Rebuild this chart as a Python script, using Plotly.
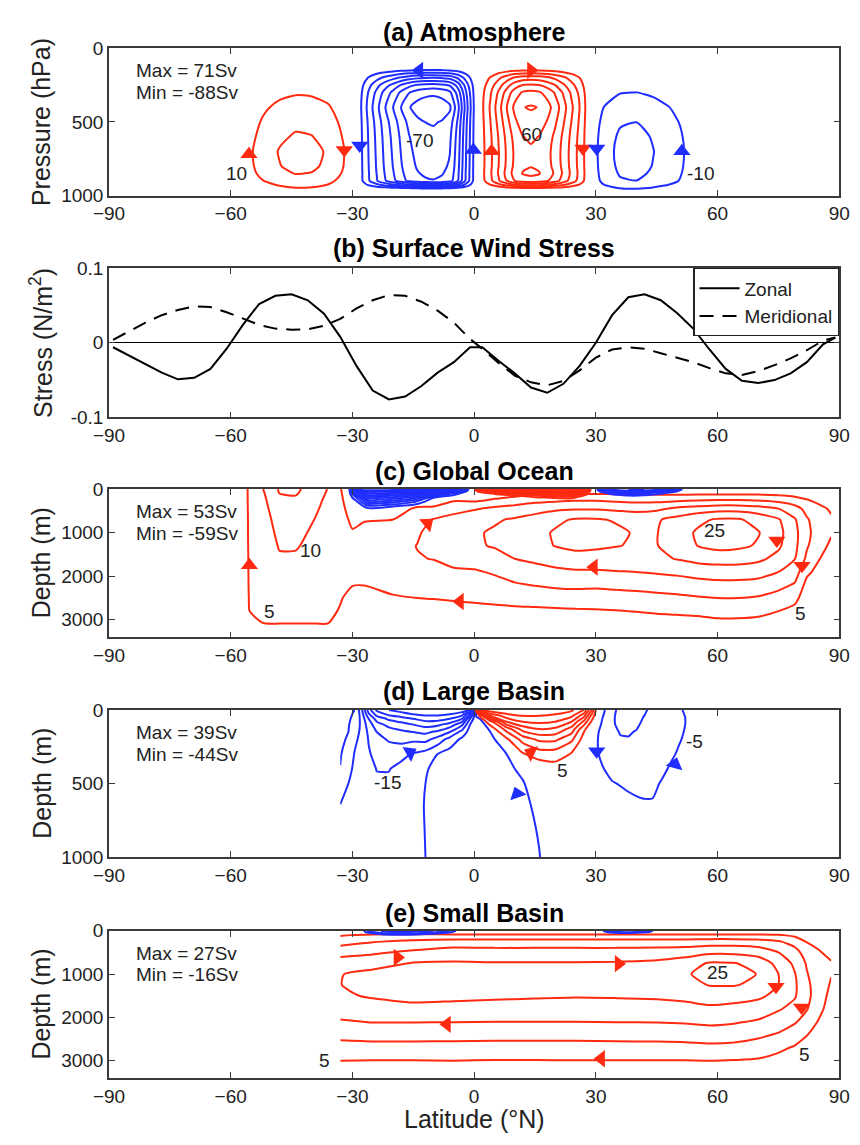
import plotly.graph_objects as go
import numpy as np

# ---------------- DATA ----------------
LAT_TICKS = [-90, -60, -30, 0, 30, 60, 90]

# (a) Atmosphere: cells as amplitude x lat-profile x pressure-profile
P_A = [0, 100, 150, 200, 250, 300, 400, 500, 600, 700, 800, 850, 900, 925, 950, 1000]
LAT_FS = [-60, -56, -52, -48, -44, -40, -36, -32, -30, -28]
F_FS = [0, 0.3, 0.62, 0.86, 1.0, 0.96, 0.78, 0.42, 0.12, 0]
G_FS = [0, 0, 0, 0.1, 0.24, 0.38, 0.58, 0.74, 0.88, 1.0, 0.95, 0.85, 0.66, 0.53, 0.4, 0]
A_FS = 24
LAT_HS = [-30, -28, -26, -24, -22, -20, -18, -16, -14, -12, -10, -8, -6, -4, -2, 0, 1]
F_HS = [0, 0.1, 0.27, 0.42, 0.56, 0.68, 0.8, 0.9, 0.96, 0.99, 1.0, 0.98, 0.93, 0.72, 0.4, 0.1, 0]
G_HS = [0, 0, 0.12, 0.45, 0.72, 0.88, 1.0, 0.92, 0.88, 0.86, 0.84, 0.82, 0.79, 0.5, 0.12, 0]
A_HS = -88
LAT_HN = [1, 2, 4, 6, 8, 10, 12, 14, 16, 18, 20, 22, 24, 26, 28, 30]
F_HN = [0, 0.12, 0.3, 0.5, 0.7, 0.88, 0.98, 1.0, 0.98, 0.9, 0.78, 0.62, 0.45, 0.28, 0.08, 0]
G_HN = [0, 0, 0.14, 0.5, 0.72, 0.88, 1.0, 0.93, 0.86, 0.83, 0.84, 0.87, 0.8, 0.5, 0.12, 0]
A_HN = 71
LAT_FN = [28, 30, 32, 36, 40, 44, 48, 52, 56, 60]
F_FN = [0, 0.35, 0.65, 0.95, 1.0, 0.85, 0.65, 0.4, 0.15, 0]
G_FN = [0, 0, 0, 0.12, 0.27, 0.42, 0.65, 0.83, 0.95, 1.0, 0.97, 0.92, 0.83, 0.65, 0.45, 0]
A_FN = -24

# (b) Surface wind stress
LAT_B = [-89, -85, -81, -77, -73, -69, -65, -61, -57, -53, -49, -45, -41, -37, -33, -29, -25, -21, -17, -13,
         -9, -5, -1, 2, 6, 10, 14, 18, 22, 26, 30, 34, 38, 42, 46, 50, 54, 58, 62, 66, 70, 74, 78, 82, 86, 89]
ZONAL = [-0.006, -0.017, -0.029, -0.040, -0.049, -0.047, -0.035, -0.008, 0.024, 0.052, 0.063, 0.065, 0.057,
         0.039, 0.008, -0.031, -0.064, -0.076, -0.072, -0.058, -0.040, -0.026, -0.006, -0.006, -0.024, -0.041,
         -0.060, -0.067, -0.055, -0.031, 0.000, 0.037, 0.061, 0.065, 0.057, 0.040, 0.019, -0.009, -0.035,
         -0.051, -0.054, -0.050, -0.041, -0.026, -0.002, 0.007]
MERID = [0.004, 0.016, 0.027, 0.037, 0.044, 0.049, 0.048, 0.041, 0.032, 0.024, 0.019, 0.0175, 0.018, 0.023,
         0.032, 0.046, 0.057, 0.064, 0.063, 0.055, 0.043, 0.027, 0.005, -0.008, -0.027, -0.044, -0.053, -0.057,
         -0.051, -0.037, -0.020, -0.009, -0.006, -0.008, -0.014, -0.020, -0.026, -0.034, -0.041, -0.043,
         -0.038, -0.030, -0.021, -0.010, 0.003, 0.007]

# (c) Global ocean: deep overturning cell (one list per latitude)
LAT_C = [-58, -56, -52, -48, -44, -40, -36, -33, -30, -27, -20, -14, -10, -5, 0, 5, 10, 15, 20, 25, 30, 35,
         40, 45, 50, 55, 60, 65, 70, 75, 79, 82, 85, 88]
Z_C = [0, 100, 250, 450, 700, 1000, 1300, 1600, 1900, 2200, 2500, 2800, 3100, 3400]
PSI_C_COLS = [
    [0] * 14,
    [4.8, 4.8, 4.8, 4.8, 4.8, 4.8, 4.8, 4.8, 4.8, 4.8, 4.8, 4.8, 3.5, 0],
    [10, 9.5, 9, 8.5, 8, 7.8, 7.5, 7.2, 7, 6.8, 6.5, 6, 4.9, 0],
    [15.5, 15, 14, 13, 12, 11, 10.3, 9.5, 9, 8.5, 8, 7, 4.9, 0],
    [16, 15.5, 14, 13, 12, 11, 10.3, 9.5, 9, 8.5, 8, 7, 4.9, 0],
    [13, 12.5, 11.5, 10.8, 10.2, 9.6, 9.2, 8.8, 8.4, 8, 7.5, 6.5, 4.9, 0],
    [9.8, 9.5, 9.2, 9, 8.8, 8.5, 8.3, 8, 7.8, 7.5, 7.2, 6.5, 4.9, 0],
    [5.2, 5.4, 5.6, 5.8, 6, 6.2, 6.4, 6.5, 6.5, 6.2, 5.5, 4.5, 3, 0],
    [2, 2.5, 3, 3.8, 4.5, 5.2, 6, 7, 7.5, 5.2, 3, 1.5, 0.5, 0],
    [1, 1.5, 2.5, 3.5, 4.8, 6, 7.5, 8.5, 8.5, 5.1, 3, 1.5, 0.5, 0],
    [0, 0.5, 2, 3.5, 5, 7, 8.5, 9.5, 9.5, 7, 4.3, 2, 0.5, 0],
    [0, 1, 3, 5.5, 8, 9.5, 10.1, 9.8, 9.3, 7.8, 5, 2.5, 0.5, 0],
    [0, 1.5, 3.5, 5.5, 10.3, 11.5, 11.5, 10.1, 8.7, 7.3, 5.2, 2.7, 0.5, 0],
    [0, 2, 4.5, 8, 12, 13.5, 13.5, 11.5, 9.3, 7.8, 5.6, 3, 0.7, 0],
    [0, 2, 4, 9.5, 13.5, 14.5, 14.5, 12, 9.5, 8, 6, 3.2, 0.8, 0],
    [0, 2.5, 5.5, 11, 14.5, 15.5, 15.3, 13.5, 10.5, 8.5, 6.5, 3.5, 0.8, 0],
    [0, 3, 7, 12, 15.5, 16.5, 16.3, 15, 12, 9.5, 7, 3.8, 1, 0],
    [0, 4, 8.5, 13, 17, 18.5, 18, 16, 13, 10.2, 7.2, 4, 1, 0],
    [0, 4.5, 9, 14, 19, 20.5, 20.2, 17, 14, 10.8, 7.5, 4.2, 1.1, 0],
    [0, 4.5, 9.5, 14.5, 20.5, 22, 21.5, 17.5, 14.5, 11, 7.8, 4.4, 1.2, 0],
    [0, 4.5, 9.5, 14.5, 20.5, 22, 21, 17.5, 14.5, 10.8, 7.8, 4.5, 1.3, 0],
    [0, 4.5, 9, 14, 19.5, 21, 20.2, 17.5, 14.8, 11.2, 8, 4.8, 1.4, 0],
    [0, 4, 8.5, 13.5, 18.5, 19.5, 19.5, 18, 15, 11.5, 8.3, 5.2, 1.6, 0],
    [0, 4, 8.5, 14, 19.5, 19.8, 19.8, 19, 15.5, 12, 8.6, 5.8, 1.8, 0],
    [0, 4, 9, 16, 21.5, 23, 22.5, 20.2, 16, 12.5, 9, 6.2, 2, 0],
    [0, 4, 9.5, 17, 24, 25.5, 25, 21.5, 17, 13, 9.6, 6.5, 2.4, 0],
    [0, 4, 10, 18, 25.5, 27.5, 26.5, 22, 17.5, 13.5, 10, 6.8, 3.5, 0],
    [0, 4, 10, 18, 25.5, 27, 26, 22, 17.5, 13.5, 10, 6.8, 3.5, 0],
    [0, 4, 9.5, 17, 23.5, 25.3, 24.5, 21, 17, 13, 9.5, 6.5, 3, 0],
    [0, 3.5, 8.5, 15, 20.5, 21.5, 20.8, 18.5, 15, 11.5, 8, 5, 2, 0],
    [0, 3, 7, 12, 15.5, 16.5, 16.3, 15.2, 12.5, 9.5, 6.5, 3.5, 1.5, 0],
    [0, 2.5, 5.2, 8.5, 10.5, 11, 10.5, 9, 6, 3.5, 2, 1, 0.3, 0],
    [0, 2, 4, 6, 7.5, 8, 7, 5.2, 3.5, 2, 1, 0.3, 0, 0],
    [0, 1, 3, 4.5, 5.5, 5.5, 4, 2.5, 1.5, 0.8, 0.3, 0, 0, 0],
]
# (c) surface wind-driven cells
LAT_CS1 = [-31, -29, -26, -23, -20, -15, -10, -5, -1]
Z_CS1 = [0, 50, 100, 200, 300, 400, 500]
PSI_CS1 = [
    [0, -59, -59, -59, -59, -59, -59, -59, 0],
    [0, -40, -52, -52, -50, -48, -40, -25, 0],
    [0, -25, -45, -45, -42, -38, -25, -8, 0],
    [0, -10, -32, -30, -28, -22, -5, 0, 0],
    [0, -3, -20, -18, -16, -10, 0, 0, 0],
    [0, 0, -8, -7, -5, -2, 0, 0, 0],
    [0, 0, 0, 0, 0, 0, 0, 0, 0],
]
LAT_CS2 = [0, 1, 5, 10, 15, 20, 24, 27, 29]
Z_CS2 = [0, 30, 60, 100, 150, 200, 260]
PSI_CS2 = [
    [0, 53, 53, 53, 53, 53, 53, 45, 0],
    [0, 15, 30, 38, 42, 45, 45, 30, 0],
    [0, 5, 15, 25, 32, 36, 36, 20, 0],
    [0, 1, 6, 13, 20, 25, 25, 12, 0],
    [0, 0, 2, 5, 10, 14, 14, 5, 0],
    [0, 0, 0, 1, 3, 5.5, 6, 1, 0],
    [0, 0, 0, 0, 0, 1, 1, 0, 0],
]
LAT_CS3 = [30, 31, 34, 38, 42, 46, 50, 52]
Z_CS3 = [0, 40, 80, 130, 180, 240]
PSI_CS3 = [
    [0, -20, -28, -30, -30, -28, -15, 0],
    [0, -8, -20, -25, -24, -18, -6, 0],
    [0, -2, -10, -15, -14, -8, -2, 0],
    [0, 0, -4, -7, -6, -3, 0, 0],
    [0, 0, -1, -2, -2, -1, 0, 0],
    [0, 0, 0, 0, 0, 0, 0, 0],
]

# (d) Large basin: southern/deep negative cell (one list per latitude)
LAT_D1 = [-33, -31, -29.5, -28, -26, -24, -21, -18, -15, -12, -9, -6, -3, -1, 0.5, 4, 8, 12, 16, 20, 24]
Z_D1 = [0, 30, 60, 100, 150, 200, 300, 400, 500, 650, 800, 1000]
PSI_D1_COLS = [
    [-3, -3.2, -3.4, -3.7, -4, -4.3, -4.7, -5.1, -6.8, -10.2, -11.5, -12],
    [-4, -4.2, -4.4, -4.7, -5, -5.4, -6.8, -8.5, -10, -11.5, -12, -12],
    [-5, -5.5, -6, -7, -8, -9, -10.2, -11, -11.8, -12, -12, -12],
    [-12, -11, -10.6, -10.4, -10.6, -11, -12, -12.5, -12.5, -12.3, -12.2, -12],
    [-28, -24, -20, -17.5, -16, -15.3, -14.5, -14, -13.5, -13, -12.7, -12.5],
    [-36, -32, -27, -23, -20, -18.5, -16.5, -15.1, -14.5, -13.5, -13, -12.8],
    [-40, -36, -31, -26.5, -22.5, -20.5, -17.5, -15.2, -14.2, -13.3, -13, -12.8],
    [-42, -38, -33, -28, -24, -21.5, -16.5, -13.5, -12.8, -12.5, -12.3, -12.2],
    [-43, -40, -35, -30, -25, -21, -14.5, -12, -11.5, -11.3, -11.2, -11.2],
    [-44, -41, -37, -32, -26, -21.5, -13, -10.5, -10, -9.8, -9.9, -10],
    [-44, -41, -37, -31, -24, -18, -10, -8.5, -8.2, -8, -8, -8.2],
    [-44, -40, -35, -28, -20, -13, -8, -7.3, -7.1, -7, -7, -7.2],
    [-43, -37, -30, -21, -13, -9, -7, -6.6, -6.5, -6.5, -6.5, -6.6],
    [-40, -25, -15, -10, -8, -7, -6.5, -6.3, -6.2, -6.2, -6.2, -6.3],
    [-2, -4.5, -5.5, -5.8, -5.9, -6, -6, -6, -6, -6, -6, -6.1],
    [0, -2, -3.5, -4.5, -5, -5.3, -5.6, -5.7, -5.8, -5.8, -5.9, -6],
    [0, -0.5, -1.5, -2.5, -3.5, -4.2, -5, -5.3, -5.5, -5.6, -5.7, -5.8],
    [0, 0, -0.5, -1, -2, -3, -4, -4.7, -5.1, -5.3, -5.4, -5.5],
    [0, 0, 0, -0.5, -1, -1.5, -2.5, -3.5, -4.2, -4.7, -4.9, -5.05],
    [0, 0, 0, 0, 0, -0.5, -1, -2, -2.8, -3.5, -4, -4.3],
    [0, 0, 0, 0, 0, 0, -0.3, -0.8, -1.2, -1.8, -2.3, -2.8],
]
LAT_D2 = [0, 1.5, 4, 8, 12, 16, 20, 24, 27, 29, 30.5]
Z_D2 = [0, 40, 80, 130, 200, 280, 360, 450]
PSI_D2 = [
    [0, 36, 39, 39, 39, 39, 38, 36, 30, 15, 0],
    [0, 6, 25, 33, 35, 35, 34, 31, 22, 8, 0],
    [0, 1, 8, 25, 30, 31, 30, 25, 14, 4, 0],
    [0, 0, 2, 12, 22, 25, 24, 18, 6, 2, 0],
    [0, 0, 0.5, 4, 12, 16, 16, 11, 3, 1, 0],
    [0, 0, 0, 2, 5.5, 9, 9, 5.5, 1, 0, 0],
    [0, 0, 0, 1, 2, 3.5, 4.5, 2, 0, 0, 0],
    [0, 0, 0, 0, 0.5, 1, 1, 0, 0, 0, 0],
]
LAT_D3 = [29, 30.5, 32, 34, 36, 38, 40, 42, 44, 46, 48, 50, 52, 53.5]
Z_D3 = [0, 50, 100, 150, 200, 250, 300, 400, 500, 600, 700]
PSI_D3 = [
    [0, -2, -4.5, -9, -11, -12, -11.5, -10.5, -9, -8, -7, -6, -4.5, 0],
    [0, -3, -5.5, -9.5, -11, -11.5, -11, -9.8, -8.7, -7.8, -7, -6, -5, 0],
    [0, -4, -6, -9.5, -10.8, -11, -10.5, -9.2, -8.3, -7.5, -6.8, -6, -5, 0],
    [0, -4.8, -6.3, -9, -10.2, -10.3, -9.8, -8.7, -8, -7.3, -6.7, -5.9, -4.8, 0],
    [0, -5, -6.5, -8.5, -9.7, -9.8, -9.3, -8.3, -7.8, -7.1, -6.5, -5.6, -4.5, 0],
    [0, -5, -6.5, -8, -8.8, -8.8, -8.5, -8, -7.5, -7, -6.2, -5.2, -4, 0],
    [0, -4.8, -6.4, -7.7, -8.2, -8.2, -8, -7.7, -7.3, -6.8, -5.8, -4.8, -3.5, 0],
    [0, -3, -5, -6.8, -7.3, -7.4, -7.3, -7.1, -6.8, -6, -4.8, -3.5, -2, 0],
    [0, -1.5, -3.2, -4.6, -5.3, -6, -6.2, -6.1, -5.8, -4.8, -3.5, -2, -1, 0],
    [0, -0.5, -1.5, -2.5, -3.5, -4.2, -4.8, -5.1, -5, -3.8, -2.2, -1, -0.3, 0],
    [0, 0, 0, -0.5, -1, -1.5, -2, -2.5, -2.5, -2, -1, 0, 0, 0],
]

# (e) Small basin: deep cell (one list per latitude)
LAT_E = [-33, -25, -15, -5, 5, 15, 25, 35, 45, 52, 58, 64, 70, 75, 79, 82, 85, 88]
Z_E = [0, 100, 250, 500, 750, 1000, 1250, 1500, 1800, 2100, 2400, 2700, 3000, 3200, 3400]
PSI_E_COLS = [
    [0, 4.5, 8, 13.2, 17.5, 19.8, 19.9, 19.3, 17.5, 14.5, 11.5, 8, 5, 2.5, 0],
    [0, 6, 9.7, 14.3, 18, 21.5, 22, 20.5, 18, 15.2, 11.8, 8.3, 4.9, 2.5, 0],
    [0, 6.5, 11, 16, 20.3, 22.5, 22.5, 21.3, 18.8, 15.2, 11.8, 8.3, 4.9, 2.5, 0],
    [0, 6, 12, 17.5, 20.5, 22.5, 22.5, 21, 18.6, 15.1, 11.7, 8.3, 5, 2.5, 0],
    [0, 5.8, 12, 17.2, 20.3, 22, 22, 20.7, 18.4, 15, 11.6, 8.2, 4.8, 2.4, 0],
    [0, 5.8, 12, 17.2, 20.3, 22, 21.8, 20.5, 18.2, 15, 11.6, 8.2, 4.8, 2.4, 0],
    [0, 5.8, 12, 17.2, 20.3, 21.8, 21.6, 20.3, 18.1, 15, 11.6, 8.2, 4.9, 2.4, 0],
    [0, 5.8, 12, 17.2, 20.5, 22, 21.8, 20.4, 18.2, 15.1, 11.7, 8.3, 4.9, 2.4, 0],
    [0, 5.8, 12, 17.5, 21, 22.5, 22.2, 20.6, 18.3, 15.2, 11.8, 8.4, 4.9, 2.4, 0],
    [0, 5.8, 12, 18, 22.5, 24.3, 23.5, 21.3, 18.4, 15.5, 12, 8.5, 4.9, 2.4, 0],
    [0, 6, 12.5, 19, 25.5, 27, 25.2, 22.5, 19, 16, 12.5, 8.8, 5, 2.4, 0],
    [0, 6, 12.5, 19, 25.3, 27, 25.3, 22, 18.5, 15.5, 12.2, 8.5, 4.8, 2.2, 0],
    [0, 6, 12, 18, 23, 24.8, 24, 21, 17.5, 14.5, 11, 7.5, 4.5, 2, 0],
    [0, 5.5, 10.5, 15, 18.5, 20, 20, 18.5, 15.5, 12.5, 9.5, 6, 3.5, 1.5, 0],
    [0, 4, 8, 12, 14, 15.3, 15.8, 15.5, 13.5, 10.5, 7.5, 4.5, 2, 1, 0],
    [0, 3, 4.8, 7.5, 9.5, 10.3, 11, 11.2, 10.3, 8, 5.2, 2.5, 1, 0.5, 0],
    [0, 2.5, 4, 5.3, 6.3, 7, 7.5, 7.5, 6.5, 4.5, 2.5, 1, 0.3, 0, 0],
    [0, 1.5, 2.5, 4, 5.3, 5.2, 4.5, 3.5, 2.5, 1.5, 0.5, 0, 0, 0, 0],
]
LAT_ES1 = [-28, -26, -22, -18, -14, -10, -6, -3]
Z_ES1 = [0, 30, 60, 90, 130]
PSI_ES1 = [
    [0, -12, -16, -16, -16, -15, -10, 0],
    [0, -8, -14, -15, -14, -12, -6, 0],
    [0, -3, -9, -10, -9, -6, -2, 0],
    [0, -1, -4, -5, -4, -2, 0, 0],
    [0, 0, 0, 0, 0, 0, 0, 0],
]
LAT_ES2 = [31, 33, 36, 40, 43, 45]
Z_ES2 = [0, 25, 50, 80]
PSI_ES2 = [
    [0, -12, -14, -14, -10, 0],
    [0, -7, -11, -10, -6, 0],
    [0, -2, -5, -4, -1, 0],
    [0, 0, 0, 0, 0, 0],
]

# arrows: (lat, level, rotation deg clockwise from "up", colour)
ARROWS_A = [(-55.5, 720, 0, 'r'), (-32.0, 690, 180, 'r'), (-28.2, 660, 180, 'b'), (-13.5, 150, 270, 'b'),
            (-0.2, 690, 0, 'b'), (4.3, 700, 0, 'r'), (14.0, 150, 90, 'r'), (26.8, 680, 180, 'r'),
            (30.2, 680, 180, 'b'), (51.2, 700, 0, 'b')]
ARROWS_C = [(-55.4, 1750, 0, 'r'), (-11.5, 790, 50, 'r'), (29.5, 1790, 270, 'r'), (-3.5, 2580, 270, 'r'),
            (74.6, 1180, 180, 'r'), (80.8, 1760, 180, 'r')]
ARROWS_D = [(-15.8, 290, 60, 'b'), (14.0, 290, 295, 'r'), (10.6, 570, 340, 'b'), (30.2, 280, 180, 'b'),
            (49.5, 370, 15, 'b')]
ARROWS_E = [(-18.9, 614, 90, 'r'), (35.6, 760, 90, 'r'), (74.4, 1290, 180, 'r'), (80.7, 1770, 180, 'r'),
            (-6.7, 2160, 270, 'r'), (31.3, 2955, 270, 'r')]

LABELS_A = [(-58.5, 850, '10'), (-13.5, 629, '-70'), (14.2, 584, '60'), (55.8, 851, '-10')]
LABELS_C = [(-40.4, 1400, '10'), (-50.4, 2815, '5'), (59.2, 948, '25'), (80.5, 2844, '5')]
LABELS_D = [(-21.3, 491, '-15'), (21.7, 413, '5'), (54.3, 213, '-5')]
LABELS_E = [(-36.8, 3000, '5'), (60.0, 960, '25'), (81.3, 2848, '5')]

MAXMIN = {'a': ('Max = 71Sv', 'Min = -88Sv'), 'c': ('Max = 53Sv', 'Min = -59Sv'),
          'd': ('Max = 39Sv', 'Min = -44Sv'), 'e': ('Max = 27Sv', 'Min = -16Sv')}
TITLES = {'a': '(a) Atmosphere', 'b': '(b) Surface Wind Stress', 'c': '(c) Global Ocean',
          'd': '(d) Large Basin', 'e': '(e) Small Basin'}
YTITLES = {'a': 'Pressure (hPa)', 'b': 'Stress (N/m<sup>2</sup>)', 'c': 'Depth (m)',
           'd': 'Depth (m)', 'e': 'Depth (m)'}

# ---------------- LAYOUT ----------------
W, H = 860, 1145
XL, XR = 96, 850
BOX = {'a': (39, 189), 'b': (263, 415), 'c': (488, 639), 'd': (713, 863), 'e': (938, 1088)}
TITLE_Y = {'a': 22, 'b': 242, 'c': 470, 'd': 694, 'e': 920}
AX = {'a': ('x', 'y'), 'b': ('x2', 'y2'), 'c': ('x3', 'y3'), 'd': ('x4', 'y4'), 'e': ('x5', 'y5')}
FONT = 'Liberation Sans, Arial, Helvetica, sans-serif'
RED = '#ff2a10'
BLUE = '#1f2dff'
FRAME = '#3a3a3a'

fig = go.Figure()


def add_cell(panel, lats, levs, z, color, start, end, size):
    xa, ya = AX[panel]
    fig.add_trace(go.Contour(
        x=lats, y=levs, z=z, xaxis=xa, yaxis=ya, autocontour=False,
        contours=dict(start=start, end=end, size=size, coloring='none'),
        line=dict(color=color, width=2, smoothing=0.6), showscale=False, hoverinfo='skip', showlegend=False))


def outer(A, F, G):
    return (A * np.outer(np.array(G, float), np.array(F, float))).tolist()


def cols_to_rows(cols):
    return np.array(cols, float).T.tolist()


# (a)
add_cell('a', LAT_FS, P_A, outer(A_FS, F_FS, G_FS), RED, 10, 70, 10)
add_cell('a', LAT_HS, P_A, outer(A_HS, F_HS, G_HS), BLUE, -80, -10, 10)
add_cell('a', LAT_HN, P_A, outer(A_HN, F_HN, G_HN), RED, 10, 70, 10)
add_cell('a', LAT_FN, P_A, outer(A_FN, F_FN, G_FN), BLUE, -80, -10, 10)

# (b)
fig.add_trace(go.Scatter(x=LAT_B, y=ZONAL, mode='lines', name='Zonal', line=dict(color='black', width=2),
                         xaxis='x2', yaxis='y2'))
fig.add_trace(go.Scatter(x=LAT_B, y=MERID, mode='lines', name='Meridional',
                         line=dict(color='black', width=2, dash='14px,9px'), xaxis='x2', yaxis='y2'))

# (c)
add_cell('c', LAT_C, Z_C, cols_to_rows(PSI_C_COLS), RED, 5, 50, 5)
add_cell('c', LAT_CS1, Z_CS1, PSI_CS1, BLUE, -55, -5, 5)
add_cell('c', LAT_CS2, Z_CS2, PSI_CS2, RED, 5, 50, 5)
add_cell('c', LAT_CS3, Z_CS3, PSI_CS3, BLUE, -55, -5, 5)

# (d)
add_cell('d', LAT_D1, Z_D1, cols_to_rows(PSI_D1_COLS), BLUE, -40, -5, 5)
add_cell('d', LAT_D2, Z_D2, PSI_D2, RED, 5, 35, 5)
add_cell('d', LAT_D3, Z_D3, PSI_D3, BLUE, -40, -5, 5)

# (e)
add_cell('e', LAT_E, Z_E, cols_to_rows(PSI_E_COLS), RED, 5, 25, 5)
add_cell('e', LAT_ES1, Z_ES1, PSI_ES1, BLUE, -15, -5, 5)
add_cell('e', LAT_ES2, Z_ES2, PSI_ES2, BLUE, -15, -5, 5)

# arrowheads
for panel, arr in (('a', ARROWS_A), ('c', ARROWS_C), ('d', ARROWS_D), ('e', ARROWS_E)):
    xa, ya = AX[panel]
    for lat, dep, ang, col in arr:
        fig.add_trace(go.Scatter(x=[lat], y=[dep], mode='markers', xaxis=xa, yaxis=ya, showlegend=False,
                                 hoverinfo='skip',
                                 marker=dict(symbol='triangle-up', size=15, angle=ang,
                                             color=RED if col == 'r' else BLUE, line=dict(width=0))))

ann = []
for panel, labs in (('a', LABELS_A), ('c', LABELS_C), ('d', LABELS_D), ('e', LABELS_E)):
    xa, ya = AX[panel]
    for lat, dep, txt in labs:
        ann.append(dict(x=lat, y=dep, xref=xa, yref=ya, text=txt, showarrow=False,
                        font=dict(size=19, color='#222', family=FONT)))

for p, (l1, l2) in MAXMIN.items():
    top = BOX[p][0]
    ann.append(dict(x=122 / W, y=1 - (top + 23) / H, xref='paper', yref='paper', text=l1, showarrow=False,
                    xanchor='left', yanchor='middle', font=dict(size=19, color='#222', family=FONT)))
    ann.append(dict(x=122 / W, y=1 - (top + 45) / H, xref='paper', yref='paper', text=l2, showarrow=False,
                    xanchor='left', yanchor='middle', font=dict(size=19, color='#222', family=FONT)))

for p, t in TITLES.items():
    ann.append(dict(x=(XL + XR) / 2 / W, y=1 - TITLE_Y[p] / H, xref='paper', yref='paper', text='<b>' + t + '</b>',
                    showarrow=False, xanchor='center', yanchor='middle',
                    font=dict(size=25, color='black', family=FONT)))
    top, bot = BOX[p]
    ann.append(dict(x=26 / W, y=1 - (top + bot) / 2 / H, xref='paper', yref='paper', text=YTITLES[p],
                    showarrow=False, textangle=-90, xanchor='center', yanchor='middle',
                    font=dict(size=25, color='#222', family=FONT)))

ann.append(dict(x=(XL + XR) / 2 / W, y=1 - 1130 / H, xref='paper', yref='paper', text='Latitude (°N)',
                showarrow=False, xanchor='center', yanchor='middle', font=dict(size=25, color='#222', family=FONT)))

layout = dict(width=W, height=H, margin=dict(l=0, r=0, t=0, b=0), paper_bgcolor='white',
              plot_bgcolor='white', annotations=ann, font=dict(family=FONT),
              legend=dict(x=XR / W, y=1 - 263 / H, xanchor='right', yanchor='top', bgcolor='white',
                          bordercolor='#222', borderwidth=1.2, font=dict(size=19, color='#222', family=FONT),
                          tracegroupgap=0, itemwidth=40))

YR = {'a': ([1000, 0], [0, 500, 1000]), 'b': ([-0.1, 0.1], [-0.1, 0, 0.1]),
      'c': ([3400, 0], [0, 1000, 2000, 3000]), 'd': ([1000, 0], [0, 500, 1000]),
      'e': ([3400, 0], [0, 1000, 2000, 3000])}
for i, p in enumerate(['a', 'b', 'c', 'd', 'e']):
    sfx = '' if i == 0 else str(i + 1)
    top, bot = BOX[p]
    common = dict(ticks='inside', ticklen=6, tickwidth=1.3, tickcolor=FRAME, showline=True, linecolor=FRAME,
                  linewidth=1.5, mirror='ticks', showgrid=False, ticklabeloverflow='allow',
                  tickfont=dict(size=19, color='#222', family=FONT))
    layout['xaxis' + sfx] = dict(domain=[XL / W, XR / W], range=[-90, 90], tickvals=LAT_TICKS,
                                 anchor='y' + sfx, zeroline=False, **common)
    rng, tv = YR[p]
    yd = dict(domain=[1 - bot / H, 1 - top / H], range=rng, tickvals=tv, anchor='x' + sfx, **common)
    if p == 'b':
        yd.update(zeroline=True, zerolinecolor='black', zerolinewidth=1.3,
                  ticktext=['-0.1', '0', '0.1'])
    else:
        yd.update(zeroline=False)
    layout['yaxis' + sfx] = yd

fig.update_layout(**layout)
fig.write_html('out.html',
               post_script="document.body.style.margin='0';document.body.style.padding='0';")
